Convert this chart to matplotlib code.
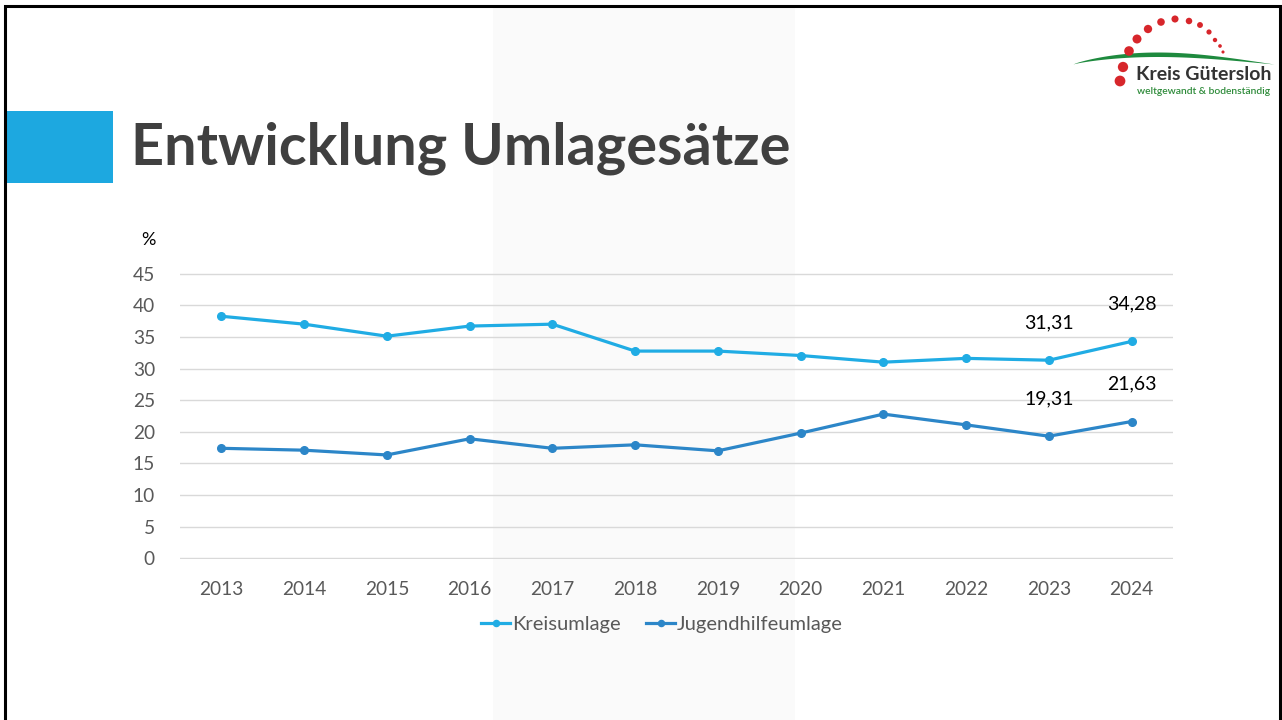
import matplotlib.pyplot as plt
import numpy as np
from matplotlib.patches import Rectangle

plt.rcParams['font.family'] = ['Lato', 'DejaVu Sans']

# data
years = ['2013', '2014', '2015', '2016', '2017', '2018', '2019', '2020', '2021', '2022', '2023', '2024']
kreisumlage = [38.25, 37.0, 35.1, 36.7, 37.0, 32.75, 32.75, 32.05, 31.0, 31.6, 31.31, 34.28]
jugendhilfe = [17.4, 17.1, 16.35, 18.9, 17.4, 17.95, 17.0, 19.8, 22.8, 21.1, 19.31, 21.63]
labelled = [10, 11]  # only the last two years get value labels
yticks = [0, 5, 10, 15, 20, 25, 30, 35, 40, 45]

c_kreis = '#20ACE4'
c_jugend = '#2C86C8'
c_tick = '#595959'

fig = plt.figure(figsize=(12.82, 7.2), dpi=100)

# background layer in pixel coords (frame, band, title, logo)
bg = fig.add_axes([0, 0, 1, 1], zorder=0)
bg.set_xlim(0, 1282)
bg.set_ylim(720, 0)
bg.axis('off')

bg.add_patch(Rectangle((493, 7), 302, 713, color='#fafafa', lw=0))
bg.plot([5, 5, 1280, 1280], [720, 5.5, 5.5, 720], color='black', lw=2.2, solid_joinstyle='miter')

# title block
bg.add_patch(Rectangle((6, 111), 107, 72, color='#1DA8E0', lw=0))
bg.text(131, 148, 'Entwicklung Umlagesätze', fontsize=41.5, fontweight='bold',
        color='#404040', va='center', ha='left')

# logo: red dots on an arc
dot_x = [1120, 1123, 1129, 1137, 1148, 1161, 1175, 1189, 1200, 1209, 1215, 1220, 1223]
dot_y = [81, 67, 51, 39, 29, 22, 19, 21, 25, 32, 40, 46, 52]
dot_s = [60, 55, 48, 42, 36, 30, 26, 22, 18, 14, 10, 7, 5]
bg.scatter(dot_x, dot_y, s=dot_s, color='#D7262B', lw=0, zorder=3)
# green swoosh
sx = np.linspace(1073, 1274, 100)
t = (sx - 1073) / (1274 - 1073)
top = 64 - 12 * np.sin(np.pi * t ** 0.8)
bot = 64 - 7.5 * np.sin(np.pi * t ** 0.8)
bg.fill_between(sx, top, bot, color='#1E8A3E', lw=0, zorder=2)
bg.text(1136, 74, 'Kreis Gütersloh', fontsize=14, color='#333333',
        fontweight='bold', va='center', ha='left', zorder=4)
bg.text(1137, 91, 'weltgewandt & bodenständig', fontsize=7.4, color='#2E8B3A',
        fontweight='semibold', va='center', ha='left', zorder=4)

# chart
ax = fig.add_axes([180 / 1282, (720 - 559) / 720, 993 / 1282, 286 / 720], zorder=1)
ax.patch.set_alpha(0)
x = np.arange(len(years))
ax.plot(x, kreisumlage, color=c_kreis, lw=2.3, marker='o', ms=5.5, label='Kreisumlage', zorder=3)
ax.plot(x, jugendhilfe, color=c_jugend, lw=2.3, marker='o', ms=5.5, label='Jugendhilfeumlage', zorder=3)

for i in labelled:
    for vals in (kreisumlage, jugendhilfe):
        ax.annotate(f'{vals[i]:.2f}'.replace('.', ','), (x[i], vals[i]),
                    xytext=(0, 27), textcoords='offset points',
                    ha='center', va='center', fontsize=14, color='black')

ax.set_xlim(-0.5, len(years) - 0.5)
ax.set_ylim(-0.08, 45.08)
ax.set_yticks(yticks)
ax.set_xticks(x)
ax.set_xticklabels(years)
ax.grid(axis='y', color='#d9d9d9', lw=1)
ax.set_axisbelow(True)
for s in ax.spines.values():
    s.set_visible(False)
ax.tick_params(length=0, labelsize=13.8, labelcolor=c_tick)
ax.tick_params(axis='x', pad=16)
ax.tick_params(axis='y', pad=18)

fig.text(148 / 1282, 1 - 240 / 720, '%', fontsize=13, color='black', ha='center', va='center')

ax.legend(loc='center', bbox_to_anchor=(662 / 1282, 1 - 624 / 720), bbox_transform=fig.transFigure,
          ncol=2, frameon=False, fontsize=14.5, labelcolor=c_tick,
          handlelength=1.4, handletextpad=0.1, columnspacing=1.3, markerscale=0.8)

fig.savefig('out.png', dpi=100)
